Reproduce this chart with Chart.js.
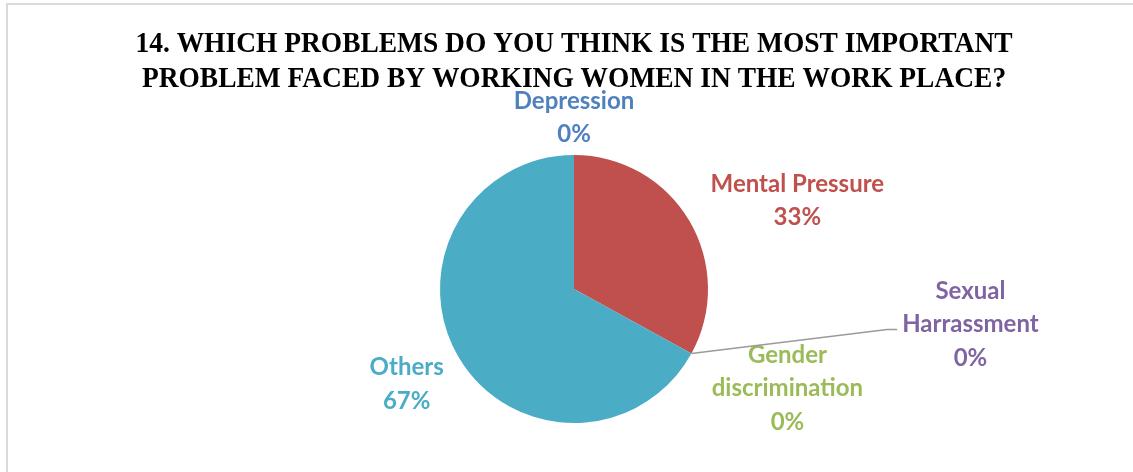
<!DOCTYPE html>
<html>
<head>
<meta charset="utf-8">
<script src="https://cdn.jsdelivr.net/npm/chart.js@4"></script>
<style>
  html, body { margin: 0; padding: 0; background: #fff; }
  #wrap { position: relative; width: 1133px; height: 472px; overflow: hidden; }
  #frame { position: absolute; left: 6px; top: 3px; width: 1200px; height: 520px; border: 2px solid #dadada; }
  #pieChart { position: absolute; left: 0; top: 0; }
</style>
</head>
<body>
<div id="wrap">
  <div id="frame"></div>
  <canvas id="pieChart" width="1133" height="472"></canvas>
</div>
<script>
// survey answers, share of respondents in %
var categories = ["Depression", "Mental Pressure", "Gender discrimination", "Sexual Harrassment", "Others"];
var shares = [0, 33, 0, 0, 67];
var sliceColors = ["#4F81BD", "#C0504D", "#9BBB59", "#8064A2", "#4BACC6"];
var titleLines = ["14. WHICH PROBLEMS DO YOU THINK IS THE MOST IMPORTANT", "PROBLEM FACED BY WORKING WOMEN IN THE WORK PLACE?"];

// how each category name is broken over lines in its label
var labelLines = [["Depression"], ["Mental Pressure"], ["Gender", "discrimination"], ["Sexual", "Harrassment"], ["Others"]];
// label centre, measured from the slice's outer mid point
var labelOffsets = [[0, -37], [108, -20], [96, 35], [279, -29], [-52, 27]];
var leaderFor = 3;

// serif title, a little narrower than the stock face
var narrowTitle = {
  id: "narrowTitle",
  afterDraw: function (chart) {
    var ctx = chart.ctx;
    var cx = (chart.chartArea.left + chart.chartArea.right) / 2;
    ctx.save();
    ctx.font = "bold 30px 'Liberation Serif'";
    ctx.fillStyle = "#000";
    ctx.textAlign = "center";
    ctx.textBaseline = "middle";
    ctx.translate(cx, 0);
    ctx.scale(0.915, 1);
    titleLines.forEach(function (t, k) {
      ctx.fillText(t, 0, 44 + k * 35);
    });
    ctx.restore();
  }
};

var pieLabels = {
  id: "pieLabels",
  afterDraw: function (chart) {
    var ctx = chart.ctx;
    var arcs = chart.getDatasetMeta(0).data;
    ctx.save();
    ctx.font = "bold 24px Lato";
    ctx.textAlign = "center";
    ctx.textBaseline = "middle";
    arcs.forEach(function (arc, i) {
      var p = arc.getProps(["x", "y", "startAngle", "endAngle", "outerRadius"], true);
      var mid = (p.startAngle + p.endAngle) / 2;
      var ax = p.x + Math.cos(mid) * p.outerRadius;
      var ay = p.y + Math.sin(mid) * p.outerRadius;
      var cx = ax + labelOffsets[i][0];
      var cy = ay + labelOffsets[i][1];
      var lines = labelLines[i].concat([shares[i] + "%"]);
      var lh = 33.5;
      var top = cy - (lines.length - 1) * lh / 2;

      if (i === leaderFor) {
        var w = ctx.measureText(labelLines[i][1]).width;
        var ex = cx - w / 2 - 5;
        var ey = cy + 5;
        ctx.strokeStyle = "#9a9a9a";
        ctx.lineWidth = 1.5;
        ctx.beginPath();
        ctx.moveTo(ax, ay);
        ctx.lineTo(ex - 10, ey);
        ctx.lineTo(ex, ey);
        ctx.stroke();
      }

      ctx.fillStyle = sliceColors[i];
      lines.forEach(function (t, k) {
        ctx.fillText(t, cx, top + k * lh);
      });
    });
    ctx.restore();
  }
};

new Chart("pieChart", {
  type: "pie",
  data: {
    labels: categories,
    datasets: [{
      data: shares,
      backgroundColor: sliceColors,
      borderWidth: 0
    }]
  },
  options: {
    responsive: false,
    animation: false,
    layout: { padding: { left: 15, right: 0, top: 155, bottom: 49 } },
    plugins: {
      legend: { display: false },
      tooltip: { enabled: false },
      title: { display: false }
    }
  },
  plugins: [narrowTitle, pieLabels]
});
</script>
</body>
</html>
